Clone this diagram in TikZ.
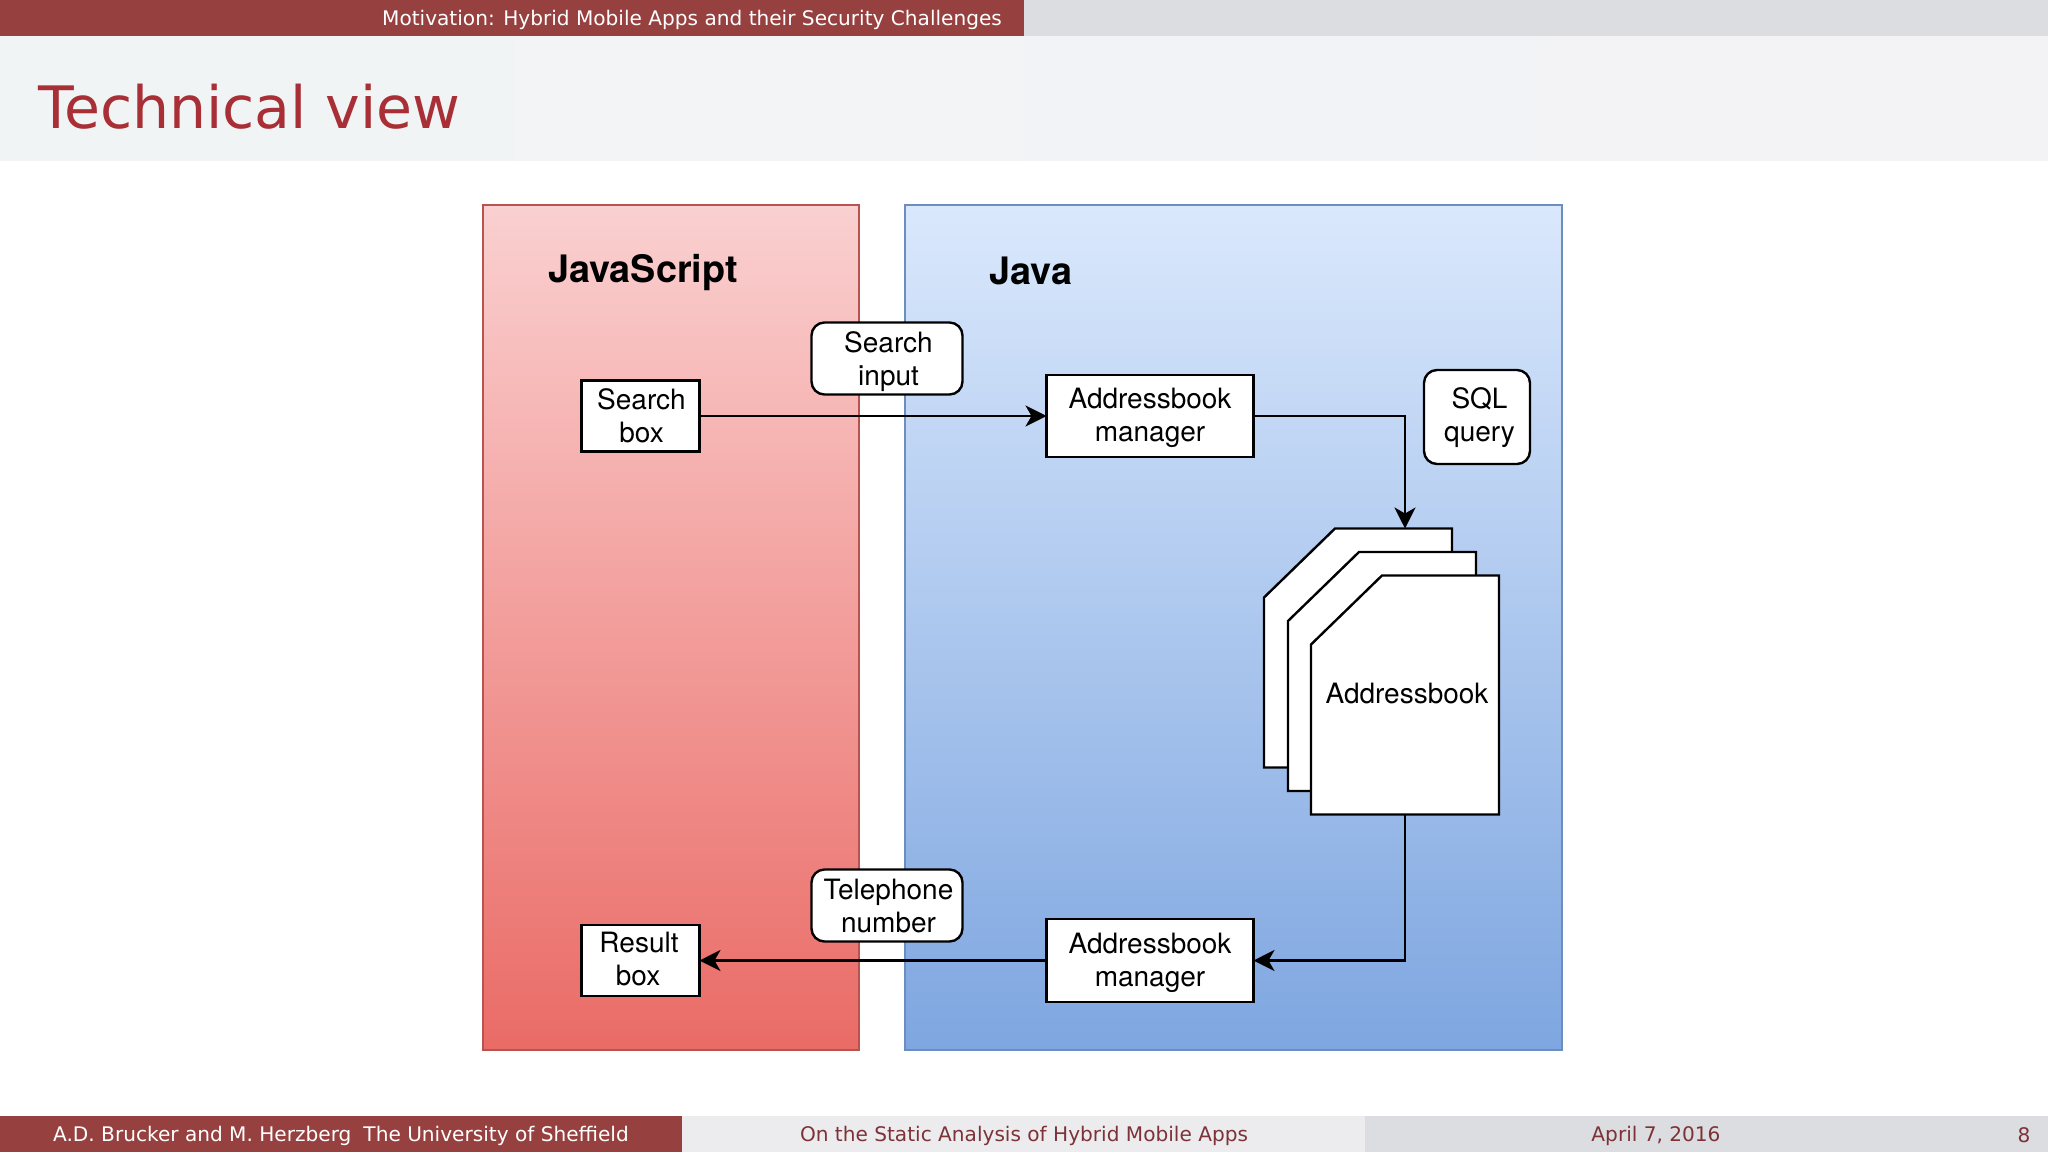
\documentclass[tikz,border=0pt]{standalone}
\usepackage{fontspec}
\setmainfont{DejaVu Sans}
\newfontfamily\drawfont{TeX Gyre Heros}
\usetikzlibrary{arrows.meta}
\definecolor{barred}{HTML}{964140}
\definecolor{bargray}{HTML}{DCDDE0}
\definecolor{barlight}{HTML}{ECECEE}
\definecolor{titleleft}{HTML}{F1F4F5}
\definecolor{titleright}{HTML}{F3F3F6}
\definecolor{titlered}{HTML}{A92F37}
\definecolor{foottext}{HTML}{7D3238}
\definecolor{jsline}{HTML}{B85450}
\definecolor{jstop}{HTML}{FAD0D0}
\definecolor{jsbottom}{HTML}{EA6B66}
\definecolor{javaline}{HTML}{6C8EBF}
\definecolor{javatop}{HTML}{DAE8FC}
\definecolor{javabottom}{HTML}{7EA6E0}
\tikzset{
  x=1pt,y=-1pt,
  barfill/.style={draw=none,inner sep=0pt,outer sep=0pt,anchor=north west},
  bartext/.style={font=\fontsize{20.1}{25}\selectfont,inner sep=0pt},
  panel/.style={draw,line width=2pt,anchor=north west,inner sep=0pt,outer sep=0pt},
  heading/.style={font=\drawfont\bfseries\fontsize{37.8}{44}\selectfont,text=black,inner sep=0pt},
  plainbox/.style={draw=black,fill=white,line width=2.4pt,inner sep=0pt,outer sep=0pt,
    align=center,font=\drawfont\fontsize{28}{33}\selectfont},
  msgbox/.style={plainbox,rounded corners=13pt},
  bookarea/.style={inner sep=0pt,outer sep=0pt,align=center,
    font=\drawfont\fontsize{28}{33}\selectfont,minimum width=188pt,minimum height=239pt},
  bookshape/.style={draw=black,fill=white,line width=2.4pt,line join=miter},
  flow/.style={draw=black,line width=2.4pt,-{Stealth[length=21pt,width=21pt,inset=6pt]}},
}
\newcommand{\bookpage}[1]{%
  \path[bookshape] ([xshift=71pt]#1.north west) -- (#1.north east) -- (#1.south east)
    -- (#1.south west) -- ([yshift=-69pt]#1.north west) -- cycle;}
\begin{document}
\begin{tikzpicture}
\useasboundingbox (0,0) rectangle (2048,1152);
% slide frame
\node[barfill,fill=bargray,minimum width=1024pt,minimum height=36pt] (topgray) at (1024,0) {};
\node[barfill,fill=barred,minimum width=1024pt,minimum height=36pt] (topred) at (0,0) {};
\node[barfill,left color=titleleft,right color=titleright,minimum width=2048pt,minimum height=124pt] (titlebar) at (0,36) {};
\node[barfill,fill=barred,minimum width=682pt,minimum height=36pt] (footred) at (0,1116) {};
\node[barfill,fill=barlight,minimum width=683pt,minimum height=36pt] (footmid) at (682,1116) {};
\node[barfill,fill=bargray,minimum width=683pt,minimum height=36pt] (footright) at (1365,1116) {};
\node[bartext,text=white,anchor=base east] (section) at (1002,25) {Motivation: Hybrid Mobile Apps and their Security Challenges};
\node[anchor=base west,inner sep=0pt,text=titlered,font=\fontsize{58.5}{70}\selectfont] (slidetitle) at (38,128) {Technical view};
\node[bartext,text=white,anchor=base] (authors) at (341,1141) {A.D. Brucker and M. Herzberg\hspace{0.6em}The University of Sheffield};
\node[bartext,text=foottext,anchor=base] (talk) at (1024,1141) {On the Static Analysis of Hybrid Mobile Apps};
\node[bartext,text=foottext,anchor=base] (date) at (1656,1141) {April 7, 2016};
\node[bartext,text=foottext,anchor=base] (page) at (2024,1142) {8};
% panels
\node[panel,draw=jsline,top color=jstop,bottom color=jsbottom,minimum width=376.5pt,minimum height=845.5pt] (jspanel) at (482.5,204.5) {};
\node[panel,draw=javaline,top color=javatop,bottom color=javabottom,minimum width=657pt,minimum height=845.5pt] (javapanel) at (905,204.5) {};
\node[heading] (jslabel) at (643,273) {JavaScript};
\node[heading] (javalabel) at (1031,271) {Java};
% boxes
\node[plainbox,minimum width=118pt,minimum height=71pt] (searchbox) at (640.5,416) {\hspace*{2pt}Search\\\hspace*{2pt}box};
\node[plainbox,minimum width=207pt,minimum height=82pt,text depth=1.9pt] (managerA) at (1150,416) {Addressbook\\manager};
\node[msgbox,minimum width=151pt,minimum height=72pt,text depth=0.7pt] (searchinput) at (887,358.5) {\hspace*{3pt}Search\\\hspace*{3pt}input};
\node[msgbox,minimum width=106pt,minimum height=94pt,text depth=4.5pt] (sqlquery) at (1477,417) {\hspace*{5pt}SQL\\\hspace*{5pt}query};
\node[bookarea] (bookA) at (1358,648) {};
\node[bookarea] (bookB) at (1382,671.5) {};
\bookpage{bookA}
\bookpage{bookB}
\node[bookarea] (bookC) at (1405,695) {};
\bookpage{bookC}
\node[inner sep=0pt,font=\drawfont\fontsize{28}{33}\selectfont] (bookClabel) at (1407,693) {Addressbook};
\node[plainbox,minimum width=118pt,minimum height=71pt,text depth=2.5pt] (resultbox) at (640.5,960.5) {Result\hspace*{3pt}\\box\hspace*{5pt}};
\node[plainbox,minimum width=207pt,minimum height=83pt,text depth=2.4pt] (managerB) at (1150,960.5) {Addressbook\\manager};
\node[msgbox,minimum width=151pt,minimum height=72pt] (telephone) at (887,905.5) {\hspace*{3pt}Telephone\\\hspace*{3pt}number};
% connectors
\draw[flow] (searchbox.east) -- (managerA.west);
\draw[flow] (managerA.east) -| (bookA.north -| bookC.north);
\draw[flow] (bookC.south) |- (managerB.east);
\draw[flow] (managerB.west) -- (resultbox.east);
\end{tikzpicture}
\end{document}
